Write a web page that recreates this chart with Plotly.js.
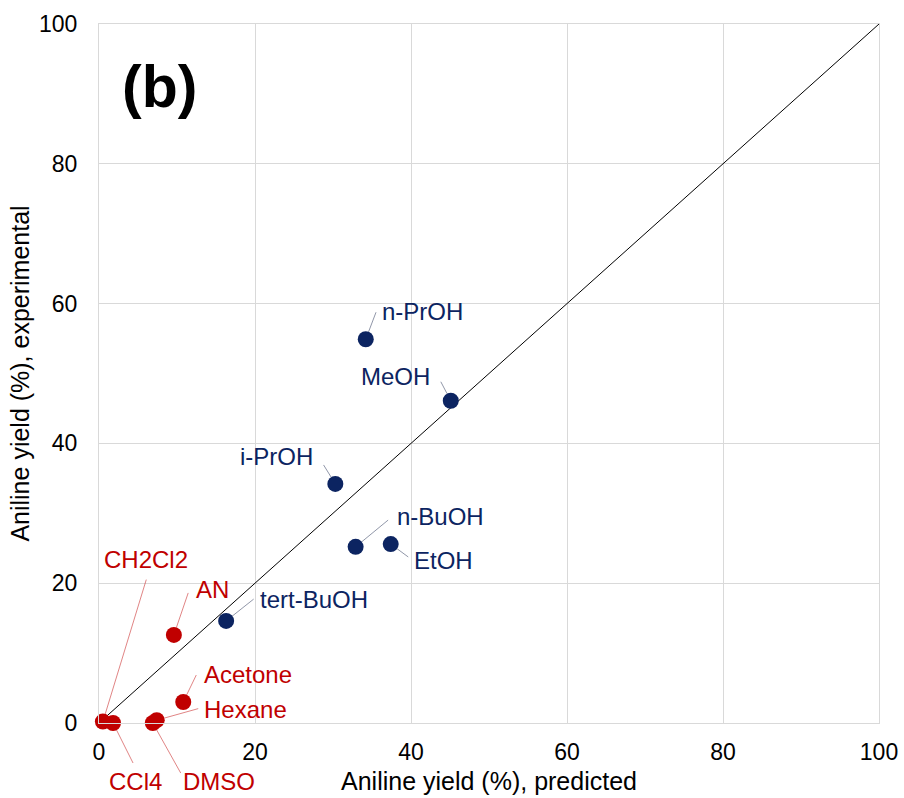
<!DOCTYPE html>
<html>
<head>
<meta charset="utf-8">
<script src="https://cdn.plot.ly/plotly-3.0.1.min.js"></script>
<style>
  html, body { margin: 0; padding: 0; background: #fff; }
  #chart { width: 904px; height: 798px; }
</style>
</head>
<body>
<div id="chart"></div>
<script>
// Alcohol solvents (blue) and other solvents (red): predicted vs experimental aniline yield
const alcoholNames = ["n-PrOH", "MeOH", "i-PrOH", "n-BuOH", "EtOH", "tert-BuOH"];
const alcoholPredicted = [34.2, 45.1, 30.3, 32.9, 37.4, 16.3];
const alcoholExperimental = [54.9, 46.1, 34.2, 25.2, 25.6, 14.6];

const otherNames = ["AN", "Acetone", "Hexane", "DMSO", "CH2Cl2", "CCl4"];
const otherPredicted = [9.6, 10.8, 7.4, 6.9, 0.5, 1.8];
const otherExperimental = [12.6, 3.0, 0.4, 0.0, 0.2, 0.0];

// 1:1 parity line
const parityX = [0, 100];
const parityY = [0, 100];

const xTicks = [0, 20, 40, 60, 80, 100];
const yTicks = [0, 20, 40, 60, 80, 100];

const BLUE = "#0c2461";
const RED = "#c00000";
const FONT = "Liberation Sans, Arial, sans-serif";

// Label placement in screen pixels relative to each point:
// [leader end dx, leader end dy (down +), text anchor, text xshift, text yshift (up +)]
const labelPlacement = {
  "n-PrOH":    [11, -29, "left", 14, 28],
  "MeOH":      [-11, -21, "right", -19, 24],
  "i-PrOH":    [-13, -21, "right", -20, 27],
  "n-BuOH":    [34, -28, "left", 39, 30],
  "EtOH":      [19, 14, "left", 21, -16],
  "tert-BuOH": [29, -23, "left", 32, 21],
  "AN":        [15, -44, "left", 20, 45],
  "Acetone":   [14, -29, "left", 19, 28],
  "Hexane":    [43, -12, "left", 45, 11],
  "DMSO":      [29, 52, "left", 28, -58],
  "CH2Cl2":    [44, -144, "center", 43, 162],
  "CCl4":      [21, 42, "center", 22, -58]
};

const traces = [
  {
    x: parityX, y: parityY, mode: "lines", type: "scatter",
    line: { color: "#000000", width: 1 }, hoverinfo: "skip", showlegend: false
  },
  {
    x: alcoholPredicted, y: alcoholExperimental, text: alcoholNames,
    mode: "markers", type: "scatter", cliponaxis: false,
    marker: { color: BLUE, size: 16 }, showlegend: false
  },
  {
    x: otherPredicted, y: otherExperimental, text: otherNames,
    mode: "markers", type: "scatter", cliponaxis: false,
    marker: { color: RED, size: 16 }, showlegend: false
  }
];

const annotations = [];
function addLabels(names, xs, ys, color, leaderColor) {
  names.forEach((name, i) => {
    const p = labelPlacement[name];
    // leader line from the marker edge out towards the label
    annotations.push({
      x: xs[i], y: ys[i], xref: "x", yref: "y",
      text: " ", font: { size: 1 },
      showarrow: true, arrowhead: 0, arrowwidth: 0.8,
      arrowcolor: leaderColor, standoff: 8,
      ax: p[0], ay: p[1]
    });
    // label text
    annotations.push({
      x: xs[i], y: ys[i], xref: "x", yref: "y",
      text: name, showarrow: false,
      xanchor: p[2], yanchor: "middle",
      xshift: p[3], yshift: p[4],
      font: { family: FONT, size: 24, color: color }
    });
  });
}
addLabels(alcoholNames, alcoholPredicted, alcoholExperimental, BLUE, "rgba(70,80,110,0.75)");
addLabels(otherNames, otherPredicted, otherExperimental, RED, "rgba(192,0,0,0.6)");

// panel tag
annotations.push({
  xref: "paper", yref: "paper", x: 0.027, y: 0.91,
  xanchor: "left", yanchor: "middle", showarrow: false,
  text: "<b>(b)</b>", font: { family: FONT, size: 59, color: "#000" }
});

const axisCommon = {
  range: [0, 100], showgrid: true, gridcolor: "#d9d9d9", gridwidth: 1,
  zeroline: false, showline: true, linecolor: "#d9d9d9", linewidth: 1, mirror: true,
  ticks: "", tickfont: { family: FONT, size: 23, color: "#000" }
};

const layout = {
  width: 904, height: 798,
  margin: { l: 99, r: 25, t: 24, b: 75 },
  paper_bgcolor: "#ffffff", plot_bgcolor: "#ffffff",
  font: { family: FONT, color: "#000" },
  xaxis: Object.assign({}, axisCommon, {
    tickvals: xTicks, ticktext: xTicks.map(String), ticklabelstandoff: 8,
    title: { text: "Aniline yield (%), predicted", font: { family: FONT, size: 25, color: "#000" }, standoff: 8 }
  }),
  yaxis: Object.assign({}, axisCommon, {
    tickvals: yTicks, ticktext: yTicks.map(String), ticklabelstandoff: 16,
    title: { text: "Aniline yield (%), experimental", font: { family: FONT, size: 25, color: "#000" }, standoff: 2 }
  }),
  annotations: annotations,
  showlegend: false
};

Plotly.newPlot("chart", traces, layout, { staticPlot: true, displayModeBar: false });
</script>
</body>
</html>
